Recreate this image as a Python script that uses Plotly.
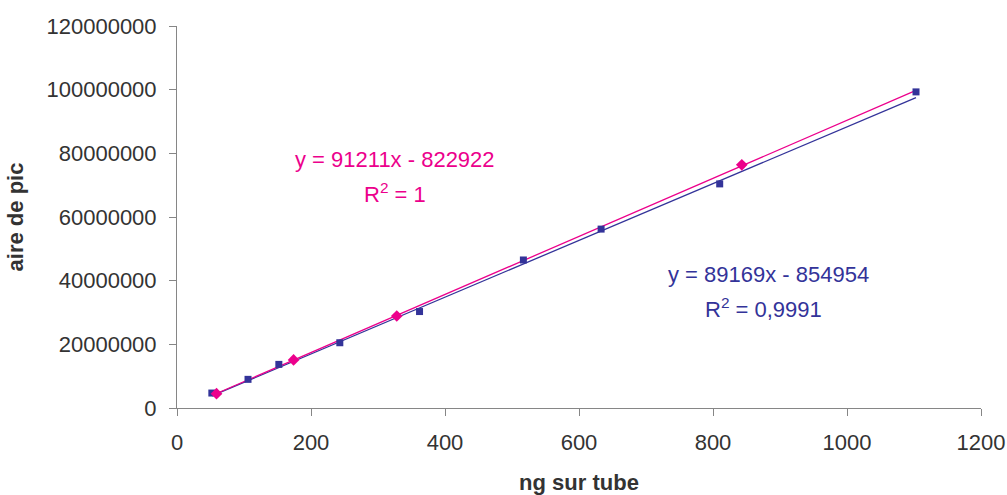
import plotly.graph_objects as go

# Data
blue_x = [52, 106, 152, 243, 362, 517, 633, 810, 1103]
blue_y = [4.7e6, 9.0e6, 13.7e6, 20.5e6, 30.3e6, 46.5e6, 56.2e6, 70.4e6, 99.3e6]
pink_x = [59, 174, 328, 843]
pink_y = [4.5e6, 15.1e6, 28.9e6, 76.4e6]

# Trendline equations (as printed) and their x extents
blue_slope, blue_intercept = 89169, -854954
pink_slope, pink_intercept = 91211, -822922
blue_trend_x = [52, 1103]
pink_trend_x = [59, 1103]

x_ticks = [0, 200, 400, 600, 800, 1000, 1200]
y_ticks = [0, 20000000, 40000000, 60000000, 80000000, 100000000, 120000000]

BLUE = "#333399"
PINK = "#EC008C"
FONT = "Liberation Sans, Arial, sans-serif"
TXT = "#333333"
AX = "#868686"

fig = go.Figure()

fig.add_trace(go.Scatter(
    x=blue_trend_x, y=[blue_slope * v + blue_intercept for v in blue_trend_x],
    mode="lines", line=dict(color=BLUE, width=1.3), showlegend=False, hoverinfo="skip"))
fig.add_trace(go.Scatter(
    x=pink_trend_x, y=[pink_slope * v + pink_intercept for v in pink_trend_x],
    mode="lines", line=dict(color=PINK, width=1.3), showlegend=False, hoverinfo="skip"))

fig.add_trace(go.Scatter(
    x=blue_x, y=blue_y, mode="markers",
    marker=dict(symbol="square", size=7, color=BLUE), showlegend=False))
fig.add_trace(go.Scatter(
    x=pink_x, y=pink_y, mode="markers",
    marker=dict(symbol="diamond", size=9, color=PINK), showlegend=False))

fig.add_annotation(x=325, y=78e6, xref="x", yref="y", showarrow=False,
                   text="y = 91211x - 822922", font=dict(family=FONT, size=22, color=PINK))
fig.add_annotation(x=325, y=67.6e6, xref="x", yref="y", showarrow=False,
                   text="R<sup>2</sup> = 1", font=dict(family=FONT, size=22, color=PINK))
fig.add_annotation(x=883, y=41.8e6, xref="x", yref="y", showarrow=False,
                   text="y = 89169x - 854954", font=dict(family=FONT, size=22, color=BLUE))
fig.add_annotation(x=875, y=31.4e6, xref="x", yref="y", showarrow=False,
                   text="R<sup>2</sup> = 0,9991", font=dict(family=FONT, size=22, color=BLUE))

fig.update_layout(
    width=1007, height=495,
    margin=dict(l=177, r=26, t=26, b=87),
    paper_bgcolor="white", plot_bgcolor="white",
    font=dict(family=FONT, size=22, color=TXT),
    showlegend=False,
)
fig.update_xaxes(
    range=[0, 1200], tickvals=x_ticks, ticktext=[str(v) for v in x_ticks],
    showgrid=False, zeroline=False, showline=True, linecolor=AX, linewidth=1,
    ticks="outside", ticklen=7, tickcolor=AX, tickwidth=1,
    tickfont=dict(family=FONT, size=22, color=TXT), ticklabelstandoff=8,
    title=dict(text="<b>ng sur tube</b>", font=dict(family=FONT, size=22, color=TXT), standoff=22),
    automargin=False,
)
fig.update_yaxes(
    range=[0, 120000000], tickvals=y_ticks, ticktext=[str(v) for v in y_ticks],
    showgrid=False, zeroline=False, showline=True, linecolor=AX, linewidth=1,
    ticks="outside", ticklen=7, tickcolor=AX, tickwidth=1,
    tickfont=dict(family=FONT, size=22, color=TXT), ticklabelstandoff=8,
    title=dict(text="<b>aire de pic</b>", font=dict(family=FONT, size=22, color=TXT), standoff=16),
    automargin=False,
)

fig.write_html("out.html")
